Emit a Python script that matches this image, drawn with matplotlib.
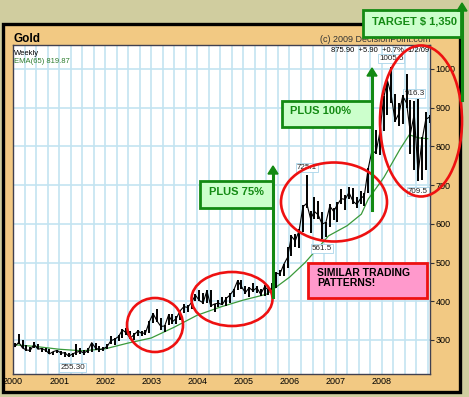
import numpy as np
import matplotlib
matplotlib.use('Agg')
import matplotlib.pyplot as plt
from matplotlib.patches import Rectangle, Ellipse
from matplotlib.ticker import MultipleLocator

plt.rcParams['font.family'] = ['Liberation Sans', 'DejaVu Sans']

W, H = 469, 397

# Monthly low / high / close, Jan 2000 .. Dec 2008, plus first week of Jan 2009
lows = [282, 290, 278, 272, 270, 278, 276, 270, 268, 264, 262, 266,
        262, 256, 256, 255.3, 262, 264, 262, 266, 268, 274, 270, 272,
        276, 290, 288, 298, 306, 314, 302, 300, 310, 310, 314, 318,
        344, 346, 326, 320, 338, 342, 340, 352, 370, 372, 380, 400,
        400, 392, 396, 384, 372, 384, 390, 388, 396, 412, 428, 432,
        418, 410, 424, 420, 414, 414, 416, 430, 434, 464, 464, 486,
        516, 540, 538, 580, 640, 575, 612, 612, 561.5, 566, 592, 610,
        604, 650, 636, 664, 652, 640, 650, 646, 680, 720, 780, 778,
        840, 880, 912, 862, 852, 858, 900, 780, 740, 709.5, 712, 740,
        860]
highs = [292, 316, 300, 288, 282, 294, 290, 280, 278, 276, 270, 275,
         272, 268, 266, 265, 290, 278, 274, 280, 293, 292, 284, 282,
         290, 310, 304, 312, 328, 330, 322, 318, 326, 324, 326, 348,
         370, 380, 356, 338, 368, 366, 362, 376, 392, 390, 398, 418,
         428, 420, 428, 428, 394, 402, 410, 412, 420, 432, 456, 454,
         440, 438, 448, 440, 432, 442, 432, 448, 476, 480, 496, 540,
         570, 574, 586, 648, 725.1, 632, 670, 660, 630, 604, 652, 642,
         656, 690, 674, 694, 692, 670, 684, 680, 744, 792, 842, 838,
         930, 976, 1005.5, 936, 912, 932, 986, 920, 916.3, 922, 824, 890,
         880]
closes = [283, 294, 279, 274, 273, 289, 276, 278, 273, 264, 270, 273,
          266, 267, 258, 264, 268, 271, 266, 273, 293, 279, 275, 277,
          283, 298, 302, 309, 326, 318, 305, 313, 323, 317, 318, 347,
          368, 349, 335, 336, 364, 347, 355, 375, 386, 384, 397, 416,
          402, 396, 427, 388, 393, 395, 391, 407, 416, 429, 453, 438,
          422, 435, 427, 435, 418, 437, 430, 433, 473, 470, 495, 513,
          568, 556, 582, 644, 653, 613, 632, 623, 599, 604, 646, 632,
          650, 665, 663, 681, 659, 650, 665, 673, 743, 789, 783, 834,
          923, 971, 933, 865, 885, 930, 912, 833, 884, 730, 814, 870,
          876]

# 65-week EMA
ema_x = [2000.0, 2000.5, 2001.0, 2001.5, 2002.0, 2002.5, 2003.0, 2003.5,
         2004.0, 2004.5, 2005.0, 2005.5, 2006.0, 2006.34, 2006.85, 2007.25,
         2007.56, 2007.71, 2008.05, 2008.4, 2008.6, 2008.8, 2009.0]
ema_v = [288, 283, 276, 272, 277, 292, 305, 333, 364, 385, 403, 418, 462,
         500, 569, 595, 625, 664, 720, 793, 830, 822, 820]

years = list(range(2000, 2009))
price_ticks = [300, 400, 500, 600, 700, 800, 900, 1000]

# (month index, 'low'/'high', text) of the marked extremes
marks = [(15, 'low', '255.30'), (80, 'low', '561.5'), (76, 'high', '725.1'),
         (98, 'high', '1005.5'), (104, 'high', '916.3'), (105, 'low', '709.5')]

x = 2000 + (np.arange(len(closes)) + 0.5) / 12


def fx(px):
    return px / W


def fy(py):
    return 1 - py / H


fig = plt.figure(figsize=(W / 100, H / 100), dpi=100, facecolor='#d0cd9f')

# tan frame with black border
fig.patches.append(Rectangle((fx(3), fy(392)), fx(457), 368 / H, transform=fig.transFigure,
                             facecolor='#f2c983', edgecolor='black', linewidth=2.4, zorder=-5))

ax = fig.add_axes([fx(13), fy(374), fx(417), 329 / H])
ax.set_zorder(1)
ax.set_facecolor('white')
ax.set_xlim(2000, 2009.05)
ax.set_ylim(212, 1062)

ax.vlines(x, lows, highs, color='black', linewidth=1.4, zorder=3)
ax.plot(x, closes, color='black', linewidth=0.8, zorder=3)
ax.plot(ema_x, ema_v, color='#3a9a3a', linewidth=0.9, zorder=2)

ax.set_xticks(years)
ax.set_xticklabels([str(y) for y in years])
ax.xaxis.set_minor_locator(MultipleLocator(0.25))
ax.set_yticks(price_ticks)
ax.yaxis.tick_right()
ax.tick_params(axis='x', which='both', length=0, labelsize=6.5, pad=2)
ax.tick_params(axis='y', length=3, labelsize=6.5, pad=1, color='#333333')
ax.grid(True, which='both', axis='x', color='#c3e4f1', linewidth=1.2)
ax.grid(True, which='major', axis='y', color='#c3e4f1', linewidth=1.2)
ax.set_axisbelow(True)
for s in ax.spines.values():
    s.set_color('#404050')
    s.set_linewidth(1.0)

for i, kind, txt in marks:
    yv = lows[i] if kind == 'low' else highs[i]
    off = -10 if kind == 'low' else 8
    ax.annotate(txt, xy=(x[i], yv), xytext=(0, off), textcoords='offset pixels',
                ha='center', va='center', fontsize=5.8, color='#222222', zorder=2.5,
                bbox=dict(boxstyle='square,pad=0.12', fc='white', ec='#a8d4ea', lw=0.6))

# header texts
fig.text(fx(13), fy(39), 'Gold', fontsize=8.5, fontweight='bold', va='center', ha='left')
fig.text(fx(430), fy(40), '(c) 2009 DecisionPoint.com', fontsize=6.5, va='center', ha='right',
         color='#333333')
ax.text(0.003, 0.985, 'Weekly', transform=ax.transAxes, fontsize=5.5, va='top', ha='left')
ax.text(0.003, 0.96, 'EMA(65) 819.87', transform=ax.transAxes, fontsize=5.5, va='top',
        ha='left', color='#2e7d2e')
ax.text(0.997, 0.995, '875.90  +5.90  +0.7%  1/2/09', transform=ax.transAxes, fontsize=5.5,
        va='top', ha='right')

# red ellipses (centre x, centre y, width, height in pixels)
for cx, cy, ew, eh in [(155, 325, 56, 54), (232, 299, 81, 54),
                       (334, 202, 106, 79), (421, 121, 82, 151)]:
    fig.add_artist(Ellipse((fx(cx), fy(cy)), ew / W, eh / H, transform=fig.transFigure,
                           fill=False, edgecolor='#ee1111', linewidth=1.9, zorder=5))

green = '#138a13'


def green_box(x0, y0, x1, y1, text, tx, ty):
    fig.add_artist(Rectangle((fx(x0), fy(y1)), (x1 - x0) / W, (y1 - y0) / H,
                             transform=fig.transFigure, facecolor='#ccffcc',
                             edgecolor=green, linewidth=2.0, zorder=6))
    fig.text(fx(tx), fy(ty), text, fontsize=8, fontweight='bold', color=green,
             va='center', ha='left', zorder=7)


def green_arrow(xp, y_from, y_to):
    fig.add_artist(plt.Line2D([fx(xp), fx(xp)], [fy(y_from), fy(y_to + 6)],
                              transform=fig.transFigure, color=green, linewidth=2.2, zorder=6))
    fig.add_artist(plt.Polygon([[fx(xp - 5), fy(y_to + 8)], [fx(xp + 5), fy(y_to + 8)],
                                [fx(xp), fy(y_to)]], closed=True, transform=fig.transFigure,
                               color=green, zorder=6))


green_box(200, 181, 273, 208, 'PLUS 75%', 209, 192)
green_arrow(273, 297, 166)
green_box(282, 101, 372, 127, 'PLUS 100%', 290, 111)
green_arrow(372, 210, 68)
green_box(363, 10, 461, 37, 'TARGET $ 1,350', 372, 21)
green_arrow(462, 100, 3)

# pink note
fig.add_artist(Rectangle((fx(308), fy(298)), 119 / W, 35 / H, transform=fig.transFigure,
                         facecolor='#ff99cc', edgecolor='#ee1111', linewidth=2.0, zorder=6))
fig.text(fx(317), fy(278), 'SIMILAR TRADING\nPATTERNS!', fontsize=7.5, fontweight='bold',
         va='center', ha='left', linespacing=1.1, zorder=7)

fig.savefig('out.png', dpi=100, facecolor=fig.get_facecolor())
